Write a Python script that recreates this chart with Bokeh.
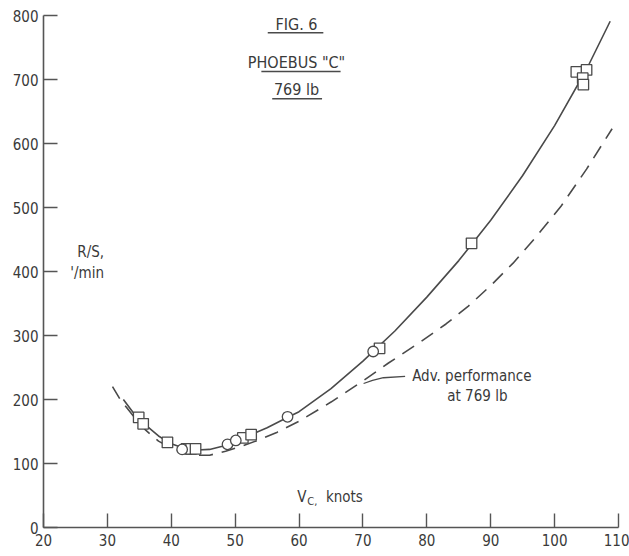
from bokeh.plotting import figure
from bokeh.models import Label, Range1d, FixedTicker
from bokeh.embed import file_html
from bokeh.resources import INLINE

# ---------------- data ----------------
x_ticks = [20, 30, 40, 50, 60, 70, 80, 90, 100, 110]
y_ticks = [0, 100, 200, 300, 400, 500, 600, 700, 800]

# square symbols
sq_x = [34.9, 35.6, 39.4, 42.4, 43.1, 43.8, 51.2, 52.5, 72.6, 87.0, 103.4, 105.0, 104.4, 104.5]
sq_y = [172, 162, 133, 123, 123, 123, 140, 145, 280, 444, 712, 715, 702, 692]

# circle symbols
ci_x = [41.7, 48.8, 50.1, 58.2, 71.6]
ci_y = [122, 130, 136, 173, 275]

# faired (solid) curve through the flight data
fit_x = [32.5, 34, 36, 38, 40, 42, 44, 46, 48, 50, 52, 55, 58, 60, 65, 70, 75, 80, 85, 90, 95, 100, 105, 108.7]
fit_y = [200, 180, 160, 143, 131, 124, 121, 122, 127, 134, 143, 156, 171, 181, 217, 260, 307, 360, 417, 480, 550, 628, 716, 791]

# advertised performance (dashed) curve
adv_x = [30.8, 32, 34, 36, 38, 40, 42, 44, 46, 48.5, 51, 53.5, 56.6, 60, 65, 70, 74, 79, 83, 86.5, 90, 93.5, 97, 101, 105, 109]
adv_y = [220, 200, 175, 152, 135, 124, 117, 113, 113, 119, 127, 136, 149, 166, 196, 229, 257, 290, 318, 346, 378, 413, 453, 502, 560, 623]

# ---------------- styling ----------------
FONT = "DejaVu Sans Condensed"
TXT = "#3a3a3a"
INK = "#4a4a4a"

p = figure(width=629, height=556, x_range=Range1d(20, 110), y_range=Range1d(0, 800),
           output_backend="svg", toolbar_location=None,
           min_border_left=43, min_border_right=11, min_border_top=15, min_border_bottom=29)
p.outline_line_color = None
p.grid.visible = False
p.background_fill_color = "white"

for ax, ticks in ((p.xaxis, x_ticks), (p.yaxis, y_ticks)):
    ax.ticker = FixedTicker(ticks=ticks)
    ax.major_tick_in = 14
    ax.major_tick_out = 0
    ax.minor_tick_in = 0
    ax.minor_tick_out = 0
    ax.axis_line_color = "#555555"
    ax.axis_line_width = 1.6
    ax.major_tick_line_color = "#555555"
    ax.major_tick_line_width = 1.4
    ax.major_label_text_font = FONT
    ax.major_label_text_font_size = "15px"
    ax.major_label_text_color = TXT
p.xaxis.major_label_standoff = 6
p.yaxis.major_label_standoff = 5

# curves
p.line(fit_x, fit_y, line_color=INK, line_width=1.6)
p.line(adv_x, adv_y, line_color=INK, line_width=1.6, line_dash="14 9")

# symbols
p.scatter(sq_x, sq_y, marker="square", size=10.5, fill_color="white",
          line_color=INK, line_width=1.3)
p.scatter(ci_x, ci_y, marker="circle", size=10.5, fill_color="white",
          line_color=INK, line_width=1.3)

# titles with underlines
title_x = 59.6
titles = [("FIG. 6", 786), ('PHOEBUS "C"', 727), ("769 lb", 684)]
for t, yy in titles:
    p.add_layout(Label(x=title_x, y=yy, text=t, text_align="center", text_baseline="middle",
                       text_font=FONT, text_font_size="16px", text_color=TXT))
ul_x0 = [55.1, 54.1, 55.8]
ul_x1 = [63.8, 66.5, 63.6]
ul_y = [773, 712.5, 670]
p.segment(ul_x0, ul_y, ul_x1, ul_y, line_color=INK, line_width=1.5)

# y-axis label
p.add_layout(Label(x=25.3, y=430, text="R/S,", text_baseline="middle",
                   text_font=FONT, text_font_size="15px", text_color=TXT))
p.add_layout(Label(x=24.2, y=397, text="'/min", text_baseline="middle",
                   text_font=FONT, text_font_size="15px", text_color=TXT))

# x-axis label  V_C, knots
p.add_layout(Label(x=59.7, y=47, text="V", text_baseline="middle",
                   text_font=FONT, text_font_size="15px", text_color=TXT))
p.add_layout(Label(x=61.3, y=40, text="C,", text_baseline="middle",
                   text_font=FONT, text_font_size="11px", text_color=TXT))
p.add_layout(Label(x=64.2, y=47, text="knots", text_baseline="middle",
                   text_font=FONT, text_font_size="15px", text_color=TXT))

# annotation for dashed curve
leader_x = [70.1, 71.5, 73.2, 76.6]
leader_y = [225, 230, 234, 236]
p.line(leader_x, leader_y, line_color=INK, line_width=1.3)
p.add_layout(Label(x=77.7, y=236, text="Adv. performance", text_baseline="middle",
                   text_font=FONT, text_font_size="15px", text_color=TXT))
p.add_layout(Label(x=83.2, y=206, text="at 769 lb", text_baseline="middle",
                   text_font=FONT, text_font_size="15px", text_color=TXT))

open("out.html", "w").write(file_html(p, INLINE))
